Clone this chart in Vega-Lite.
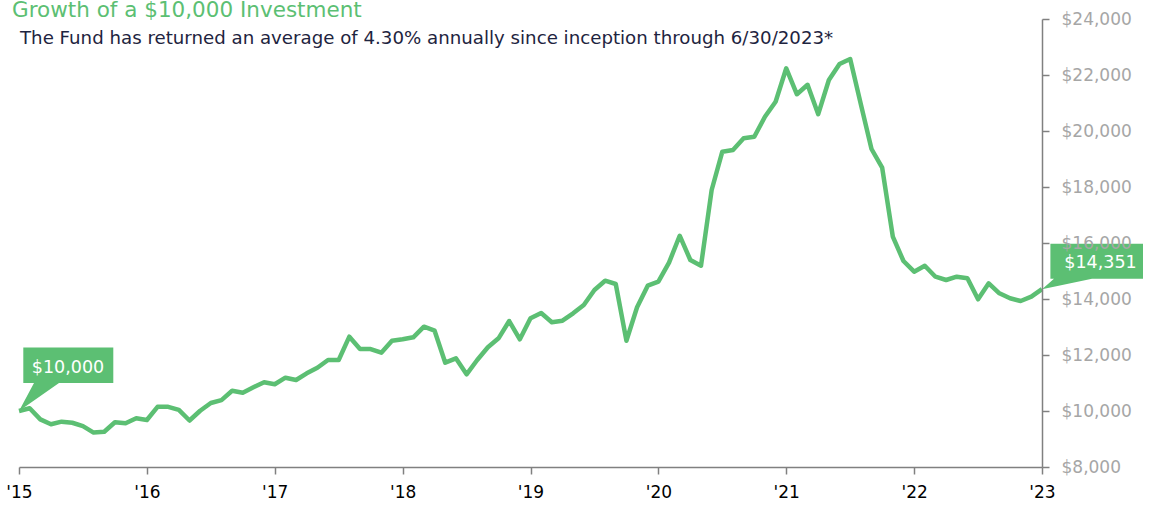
{
  "$schema": "https://vega.github.io/schema/vega-lite/v6.json",
  "width": 1023,
  "height": 448,
  "autosize": {"type": "none"},
  "padding": {"left": 19, "top": 19, "right": 110, "bottom": 41},
  "background": "#ffffff",
  "config": {"view": {"stroke": null}, "font": "DejaVu Sans"},
  "title": {
    "text": "Growth of a $10,000 Investment",
    "anchor": "start",
    "frame": "group",
    "orient": "top",
    "offset": 0,
    "dx": -7,
    "dy": 28,
    "baseline": "alphabetic",
    "font": "DejaVu Sans",
    "fontSize": 21.5,
    "fontWeight": "normal",
    "color": "#5cbf73"
  },
  "data": {
    "values": [
      {"m": 0, "v": 10000}, {"m": 1, "v": 10100}, {"m": 2, "v": 9700}, {"m": 3, "v": 9525},
      {"m": 4, "v": 9620}, {"m": 5, "v": 9580}, {"m": 6, "v": 9460}, {"m": 7, "v": 9230},
      {"m": 8, "v": 9260}, {"m": 9, "v": 9600}, {"m": 10, "v": 9560}, {"m": 11, "v": 9740},
      {"m": 12, "v": 9680}, {"m": 13, "v": 10150}, {"m": 14, "v": 10150}, {"m": 15, "v": 10040},
      {"m": 16, "v": 9660}, {"m": 17, "v": 10010}, {"m": 18, "v": 10285}, {"m": 19, "v": 10390},
      {"m": 20, "v": 10725}, {"m": 21, "v": 10654}, {"m": 22, "v": 10846}, {"m": 23, "v": 11025},
      {"m": 24, "v": 10954}, {"m": 25, "v": 11189}, {"m": 26, "v": 11107}, {"m": 27, "v": 11346},
      {"m": 28, "v": 11546}, {"m": 29, "v": 11821}, {"m": 30, "v": 11821}, {"m": 31, "v": 12654},
      {"m": 32, "v": 12214}, {"m": 33, "v": 12214}, {"m": 34, "v": 12082}, {"m": 35, "v": 12511},
      {"m": 36, "v": 12561}, {"m": 37, "v": 12632}, {"m": 38, "v": 13011}, {"m": 39, "v": 12868},
      {"m": 40, "v": 11725}, {"m": 41, "v": 11882}, {"m": 42, "v": 11311}, {"m": 43, "v": 11821},
      {"m": 44, "v": 12275}, {"m": 45, "v": 12596}, {"m": 46, "v": 13214}, {"m": 47, "v": 12561},
      {"m": 48, "v": 13311}, {"m": 49, "v": 13500}, {"m": 50, "v": 13168}, {"m": 51, "v": 13225},
      {"m": 52, "v": 13489}, {"m": 53, "v": 13786}, {"m": 54, "v": 14321}, {"m": 55, "v": 14654},
      {"m": 56, "v": 14536}, {"m": 57, "v": 12511}, {"m": 58, "v": 13704}, {"m": 59, "v": 14475},
      {"m": 60, "v": 14620}, {"m": 61, "v": 15300}, {"m": 62, "v": 16260}, {"m": 63, "v": 15393},
      {"m": 64, "v": 15189}, {"m": 65, "v": 17893}, {"m": 66, "v": 19261}, {"m": 67, "v": 19321},
      {"m": 68, "v": 19739}, {"m": 69, "v": 19796}, {"m": 70, "v": 20511}, {"m": 71, "v": 21046},
      {"m": 72, "v": 22239}, {"m": 73, "v": 21311}, {"m": 74, "v": 21650}, {"m": 75, "v": 20600},
      {"m": 76, "v": 21821}, {"m": 77, "v": 22393}, {"m": 78, "v": 22571}, {"m": 79, "v": 20954},
      {"m": 80, "v": 19357}, {"m": 81, "v": 18689}, {"m": 82, "v": 16225}, {"m": 83, "v": 15357},
      {"m": 84, "v": 14975}, {"m": 85, "v": 15189}, {"m": 86, "v": 14796}, {"m": 87, "v": 14679},
      {"m": 88, "v": 14796}, {"m": 89, "v": 14739}, {"m": 90, "v": 13989}, {"m": 91, "v": 14561},
      {"m": 92, "v": 14204}, {"m": 93, "v": 14025}, {"m": 94, "v": 13929}, {"m": 95, "v": 14082},
      {"m": 96, "v": 14351}
    ]
  },
  "encoding": {
    "x": {
      "field": "m",
      "type": "quantitative",
      "scale": {"domain": [0, 96], "nice": false, "zero": false},
      "axis": {
        "orient": "bottom",
        "title": null,
        "grid": false,
        "values": [0, 12, 24, 36, 48, 60, 72, 84, 96],
        "labelExpr": "\"'\" + (15 + datum.value / 12)",
        "labelFont": "DejaVu Sans",
        "labelFontSize": 17,
        "labelColor": "#000000",
        "labelPadding": 10,
        "labelFlush": false,
        "labelOverlap": false,
        "domainColor": "#808080",
        "domainWidth": 1.5,
        "tickColor": "#808080",
        "tickWidth": 1.5,
        "tickSize": 7
      }
    },
    "y": {
      "field": "v",
      "type": "quantitative",
      "scale": {"domain": [8000, 24000], "nice": false, "zero": false},
      "axis": {
        "orient": "right",
        "title": null,
        "grid": false,
        "zindex": 1,
        "values": [8000, 10000, 12000, 14000, 16000, 18000, 20000, 22000, 24000],
        "format": "$,.0f",
        "labelFont": "DejaVu Sans",
        "labelFontSize": 17,
        "labelColor": "#a6a6a6",
        "labelAlign": "left",
        "labelBaseline": "middle",
        "labelPadding": 12,
        "labelFlush": false,
        "labelOverlap": false,
        "domainColor": "#808080",
        "domainWidth": 1.5,
        "tickColor": "#808080",
        "tickWidth": 1.5,
        "tickSize": 7
      }
    }
  },
  "layer": [
    {
      "mark": {"type": "line", "color": "#5cbf73", "strokeWidth": 4.5, "strokeJoin": "round"}
    },
    {
      "data": {"values": [{"m": 0, "v": 10000, "label": "$10,000"}]},
      "mark": {
        "type": "point",
        "shape": "M0,0 L15,-28 L4.3,-28 L4.3,-63.4 L94.3,-63.4 L94.3,-28 L40,-28 Z",
        "size": 4,
        "filled": true,
        "opacity": 1,
        "color": "#5cbf73",
        "strokeWidth": 0
      }
    },
    {
      "data": {"values": [{"m": 0, "v": 10000, "label": "$10,000"}]},
      "mark": {"type": "text", "align": "center", "baseline": "middle", "dx": 49, "dy": -43.5, "font": "DejaVu Sans", "fontSize": 17.5, "color": "#ffffff"},
      "encoding": {"text": {"field": "label"}}
    },
    {
      "data": {"values": [{"m": 96, "v": 14351, "label": "$14,351"}]},
      "mark": {
        "type": "point",
        "shape": "M0,0 L12,-10.4 L8.4,-10.4 L8.4,-45.4 L101,-45.4 L101,-10.4 L50,-10.4 Z",
        "size": 4,
        "filled": true,
        "opacity": 1,
        "color": "#5cbf73",
        "strokeWidth": 0
      }
    },
    {
      "data": {"values": [{"m": 96, "v": 14351, "label": "$14,351"}]},
      "mark": {"type": "text", "align": "center", "baseline": "middle", "dx": 58.5, "dy": -26.5, "font": "DejaVu Sans", "fontSize": 17.5, "color": "#ffffff"},
      "encoding": {"text": {"field": "label"}}
    },
    {
      "data": {"values": [{"m": 0, "v": 24000, "note": "The Fund has returned an average of 4.30% annually since inception through 6/30/2023*"}]},
      "mark": {"type": "text", "align": "left", "baseline": "alphabetic", "dx": 1, "dy": 24.5, "font": "DejaVu Sans", "fontSize": 18.2, "color": "#1e2440"},
      "encoding": {"text": {"field": "note"}}
    }
  ]
}
